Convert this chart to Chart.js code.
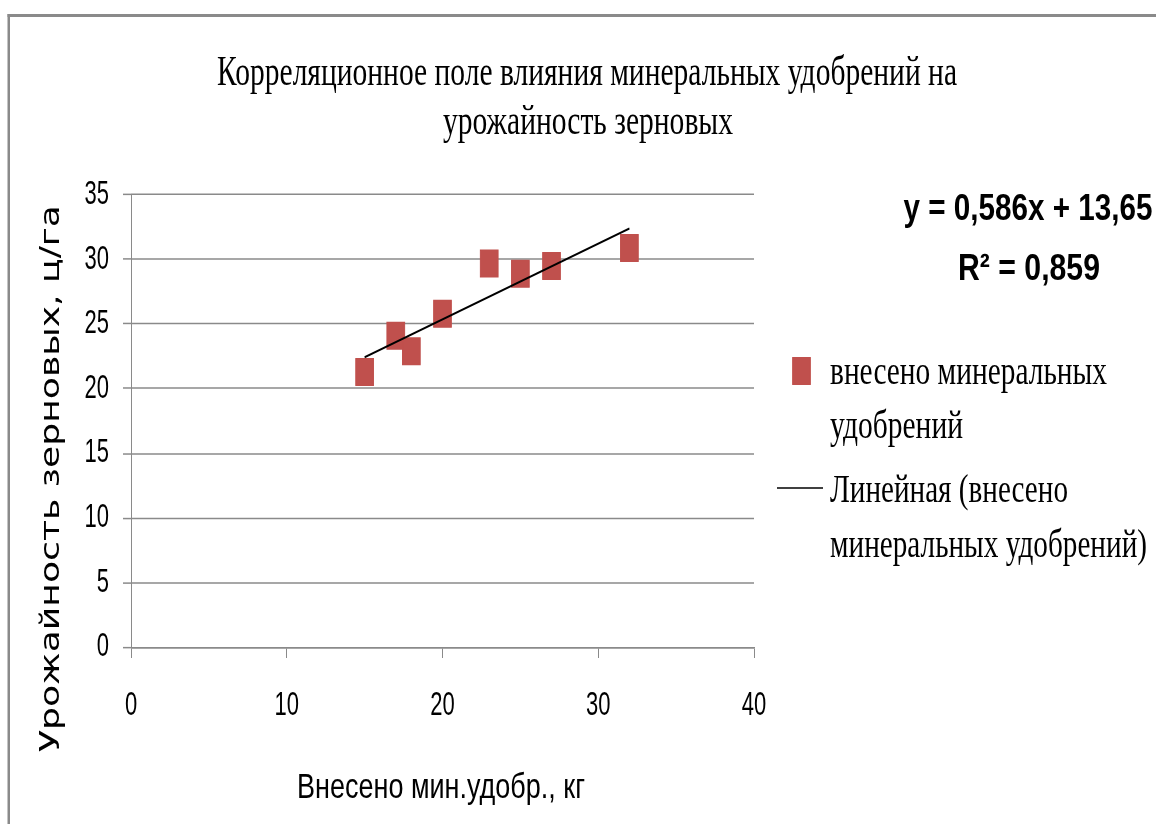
<!DOCTYPE html>
<html>
<head>
<meta charset="utf-8">
<script src="https://cdn.jsdelivr.net/npm/chart.js@4.4.1/dist/chart.umd.min.js"></script>
<style>
  html, body { margin: 0; padding: 0; background: #fff; overflow: hidden; }
  canvas { display: block; }
</style>
</head>
<body>
<canvas id="chart" width="1156" height="549"></canvas>
<script>
// Fertilizer applied (kg) and grain yield (c/ha)
const fertilizerKg = [15, 17, 18, 20, 23, 25, 27, 32];
const grainYield = [21.3, 24.1, 22.9, 25.8, 29.7, 28.9, 29.5, 30.9];

// Linear trend y = a·x + b and its R²
const trendSlope = 0.586;
const trendIntercept = 13.65;
const trendR2 = 0.859;

// Axis ticks
const xTicks = [0, 10, 20, 30, 40];
const yTicks = [0, 5, 10, 15, 20, 25, 30, 35];

// Texts
const titleLines = ['Корреляционное поле влияния минеральных удобрений на', 'урожайность зерновых'];
const xAxisTitle = 'Внесено мин.удобр., кг';
const yAxisTitle = 'Урожайность зерновых, ц/га';
const seriesLabel = ['внесено минеральных', 'удобрений'];
const trendLabel = ['Линейная (внесено', 'минеральных удобрений)'];

const decimalComma = v => String(v).replace('.', ',');
const equationText = 'y = ' + decimalComma(trendSlope) + 'x + ' + decimalComma(trendIntercept);
const r2Text = 'R\u00B2 = ' + decimalComma(trendR2);

// The chart is laid out on a shorter canvas and painted stretched vertically to the page height.
const PAGE_H = 824;
const LAYOUT_H = 549;
const SY = PAGE_H / LAYOUT_H;
const py = v => v / SY;

const MARKER_COLOR = '#C0504D';
const GRID_COLOR = '#8a8a8a';

function fitText(ctx, text, x, y, width, font, align) {
  ctx.save();
  ctx.font = font;
  ctx.textAlign = 'left';
  ctx.textBaseline = 'alphabetic';
  const w = ctx.measureText(text).width;
  ctx.translate(x, y);
  ctx.scale(width / w, 1);
  ctx.fillText(text, align === 'center' ? -w / 2 : 0, 0);
  ctx.restore();
}

const stretchPlugin = {
  id: 'stretch',
  afterInit(chart) {
    chart.canvas.height = PAGE_H;
    chart.canvas.style.height = PAGE_H + 'px';
  },
  beforeDraw(chart) {
    const ctx = chart.ctx;
    ctx.setTransform(1, 0, 0, SY, 0, 0);
    ctx.save();
    ctx.fillStyle = '#ffffff';
    ctx.fillRect(0, 0, chart.width, chart.height);
    // outer frame
    ctx.fillStyle = '#8a8a8a';
    ctx.fillRect(7.5, py(14), chart.width, py(3));
    ctx.fillRect(7.5, py(14), 2.5, chart.height);
    ctx.restore();
  }
};

const labelsPlugin = {
  id: 'labels',
  afterDraw(chart) {
    const ctx = chart.ctx;
    ctx.save();
    ctx.fillStyle = '#000';

    // title
    fitText(ctx, titleLines[0], 587, py(85), 740, '28px "Liberation Serif", serif', 'center');
    fitText(ctx, titleLines[1], 588, py(134), 290, '28px "Liberation Serif", serif', 'center');

    // trend equation
    fitText(ctx, equationText, 1028, py(220), 249, 'bold 25px "Liberation Sans", sans-serif', 'center');
    fitText(ctx, r2Text, 1029, py(280), 142, 'bold 25px "Liberation Sans", sans-serif', 'center');

    // axis titles
    fitText(ctx, xAxisTitle, 441, py(798), 288, '23px "Liberation Sans", sans-serif', 'center');
    ctx.save();
    ctx.translate(58.5, py(478.5));
    ctx.rotate(-Math.PI / 2);
    fitText(ctx, yAxisTitle, 0, 0, py(547), '26px "DejaVu Sans", sans-serif', 'center');
    ctx.restore();

    // legend
    const scatterDs = chart.data.datasets[0];
    const trendDs = chart.data.datasets[1];
    ctx.fillStyle = scatterDs.backgroundColor;
    ctx.strokeStyle = scatterDs.borderColor;
    Chart.helpers.drawPoint(ctx, {
      pointStyle: 'rect', radius: scatterDs.pointRadius, borderWidth: scatterDs.borderWidth, rotation: 0
    }, 801.5, py(371));
    ctx.strokeStyle = trendDs.borderColor;
    ctx.lineWidth = 1;
    ctx.beginPath();
    ctx.moveTo(777, py(488));
    ctx.lineTo(823, py(488));
    ctx.stroke();

    ctx.fillStyle = '#000';
    const legendFont = '27px "Liberation Serif", serif';
    fitText(ctx, seriesLabel[0], 830, py(384), 277, legendFont, 'left');
    fitText(ctx, seriesLabel[1], 830, py(438), 133, legendFont, 'left');
    fitText(ctx, trendLabel[0], 830, py(502), 238, legendFont, 'left');
    fitText(ctx, trendLabel[1], 830, py(557), 317, legendFont, 'left');
    ctx.restore();
  }
};

const xMin = Math.min(...fertilizerKg);
const xMax = Math.max(...fertilizerKg);
const trendPoints = [xMin, xMax].map(x => ({ x, y: trendSlope * x + trendIntercept }));

const tickFont = { family: '"Liberation Sans", sans-serif', size: 22 };

new Chart(document.getElementById('chart'), {
  type: 'scatter',
  data: {
    datasets: [
      {
        label: seriesLabel.join(' '),
        data: fertilizerKg.map((x, i) => ({ x, y: grainYield[i] })),
        pointStyle: 'rect',
        pointRadius: 12.5,
        backgroundColor: MARKER_COLOR,
        borderColor: MARKER_COLOR,
        borderWidth: 1,
        order: 1
      },
      {
        type: 'line',
        label: trendLabel.join(' '),
        data: trendPoints,
        borderColor: '#000',
        borderWidth: 1.5,
        pointRadius: 0,
        fill: false,
        order: 0
      }
    ]
  },
  options: {
    responsive: false,
    devicePixelRatio: 1,
    animation: false,
    events: [],
    layout: { padding: { top: py(195), right: 1156 - 754, left: 0, bottom: 0 } },
    plugins: {
      legend: { display: false },
      title: { display: false },
      tooltip: { enabled: false }
    },
    scales: {
      x: {
        type: 'linear',
        min: xTicks[0],
        max: xTicks[xTicks.length - 1],
        afterBuildTicks: s => { s.ticks = xTicks.map(v => ({ value: v })); },
        afterFit: s => { s.height = LAYOUT_H - py(647); },
        grid: { drawOnChartArea: false, drawTicks: true, tickLength: py(11), color: GRID_COLOR, lineWidth: 1 },
        border: { display: true, color: GRID_COLOR, width: 1 },
        ticks: { font: tickFont, color: '#000', padding: 19, maxRotation: 0 }
      },
      y: {
        type: 'linear',
        min: yTicks[0],
        max: yTicks[yTicks.length - 1],
        afterBuildTicks: s => { s.ticks = yTicks.map(v => ({ value: v })); },
        afterFit: s => { s.width = 131; },
        grid: { drawOnChartArea: true, drawTicks: true, tickLength: 8, color: GRID_COLOR, lineWidth: 1 },
        border: { display: true, color: GRID_COLOR, width: 1 },
        ticks: { font: tickFont, color: '#000', padding: 14 }
      }
    }
  },
  plugins: [stretchPlugin, labelsPlugin]
});
</script>
</body>
</html>
